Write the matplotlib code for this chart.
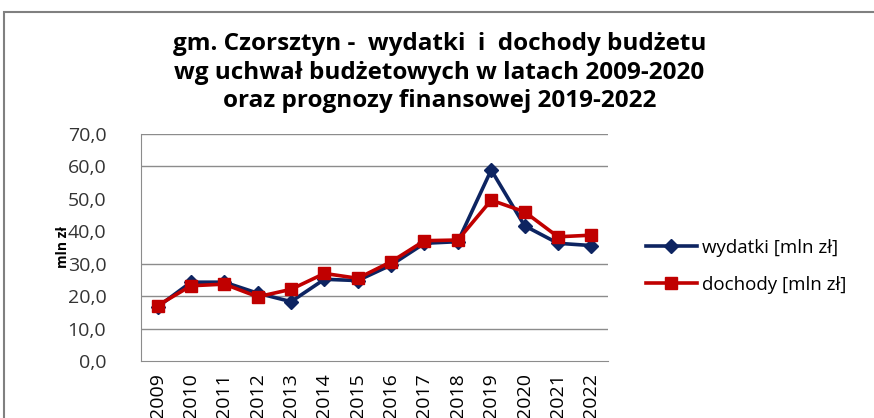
import matplotlib.pyplot as plt
from matplotlib.patches import Rectangle

# Dane
lata = ["2009", "2010", "2011", "2012", "2013", "2014", "2015",
        "2016", "2017", "2018", "2019", "2020", "2021", "2022"]
wydatki = [16.7, 24.3, 24.3, 20.9, 18.3, 25.2, 24.8,
           29.6, 36.3, 36.8, 58.9, 41.7, 36.3, 35.6]
dochody = [17.1, 23.2, 23.7, 19.8, 22.1, 27.0, 25.5,
           30.6, 37.1, 37.3, 49.6, 46.0, 38.3, 38.8]
yticki = [0, 10, 20, 30, 40, 50, 60, 70]
linie_siatki = [10, 20, 30, 60, 70]

plt.rcParams["font.family"] = ["Open Sans", "DejaVu Sans"]

fig = plt.figure(figsize=(8.74, 4.18), dpi=100)
fig.patches.append(Rectangle((4 / 874, -0.1), 1.0, 1 - 12 / 418 + 0.1,
                             transform=fig.transFigure, fill=False,
                             edgecolor="#808080", linewidth=1.5))

ax = fig.add_axes([0.1613, 0.1364, 0.5343, 0.543])
x = range(len(lata))
ax.plot(x, wydatki, color="#0d2461", linewidth=2.6, marker="D",
        markersize=7, label="wydatki [mln zł]")
ax.plot(x, dochody, color="#c00000", linewidth=2.6, marker="s",
        markersize=8, label="dochody [mln zł]")

ax.set_xlim(-0.5, len(lata) - 0.5)
ax.set_ylim(0, 70)
ax.set_yticks(yticki)
ax.set_yticklabels([f"{v:.1f}".replace(".", ",") for v in yticki],
                   fontsize=14, color="#333333")
ax.set_xticks(list(x))
ax.set_xticklabels(lata, rotation=90, fontsize=14)
ax.tick_params(axis="y", length=0, pad=25)
ax.tick_params(axis="x", length=0, pad=9)
for v in linie_siatki:
    ax.axhline(v, color="#8c8c8c", linewidth=1, zorder=0)
for s in ["top", "right"]:
    ax.spines[s].set_visible(False)
ax.spines["left"].set_color("#8c8c8c")
ax.spines["bottom"].set_color("#8c8c8c")
ax.set_ylabel("mln zł", fontsize=10, fontweight="bold", labelpad=-2)

fig.text(0.503, 0.826, "gm. Czorsztyn -  wydatki  i  dochody budżetu\n"
         "wg uchwał budżetowych w latach 2009-2020\n"
         "oraz prognozy finansowej 2019-2022",
         ha="center", va="center", fontsize=17.5, fontweight="bold",
         linespacing=1.24)

fig.legend(loc="center left", bbox_to_anchor=(0.72, 0.363), frameon=False,
           fontsize=13.5, handlelength=2.7, labelspacing=1.0, handletextpad=0.3)

fig.savefig("out.png", dpi=100)
